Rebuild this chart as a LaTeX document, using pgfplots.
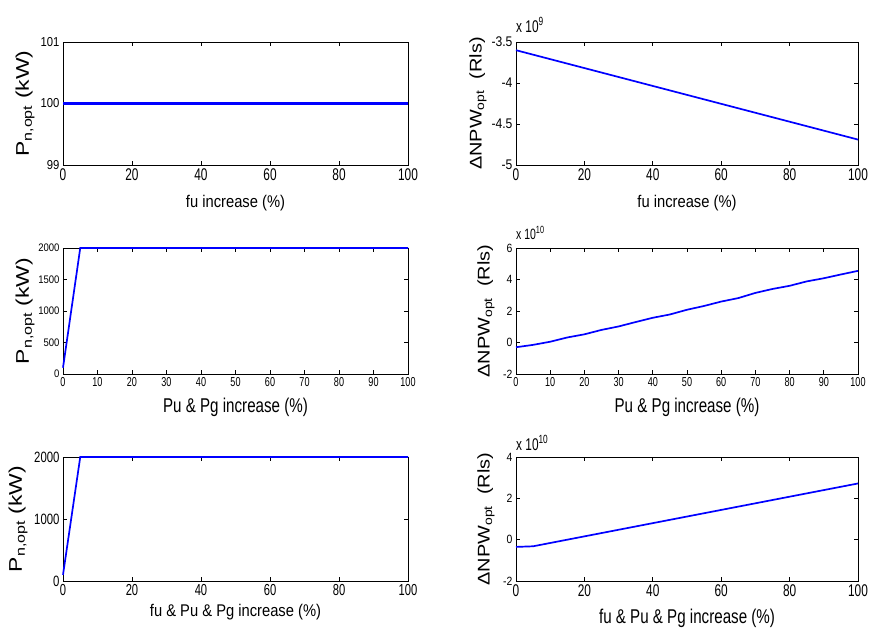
\documentclass[border=0pt]{standalone}
\usepackage{fontspec}
\setmainfont{Liberation Sans}
\newfontfamily\nA{Liberation Sans}[FakeStretch=0.70]
\newfontfamily\nB{Liberation Sans}[FakeStretch=0.76]
\newfontfamily\nC{Liberation Sans}[FakeStretch=0.87]
\usepackage{graphicx}
\usepackage{pgfplots}
\pgfplotsset{compat=1.18}
\newcommand{\fs}[1]{\fontsize{#1}{#1}\selectfont}
\pgfplotsset{
  mat/.style={
    scale only axis, anchor=south west,
    tick align=inside, tick pos=both, major tick length=4bp,
    axis line style={line width=0.9bp},
    every tick/.style={black, line width=0.8bp},
    scaled ticks=false, clip=false,
    /pgf/number format/assume math mode=true,
    /pgf/number format/1000 sep={},
    xmin=0, xmax=100, enlargelimits=false,
    every axis x label/.style={anchor=base, at={(axis description cs:0.5,0)}},
    every axis y label/.style={anchor=center, rotate=90, at={(axis description cs:0,0.5)}},
  },
}
\begin{document}
\begin{tikzpicture}
\useasboundingbox (0,0) rectangle (871bp,-631bp);

% ---------- Panel 1 ----------
\begin{axis}[mat, at={(63bp,-165bp)}, width=345bp, height=123bp,
  ymin=99, ymax=101, ytick={99,100,101}, xtick={0,20,...,100},
  xticklabel style={font=\nA\fs{17}},
  yticklabel style={font=\nC\fs{13}},
  xlabel={\nC\fs{17}fu increase (\%)},
  xlabel style={at={([yshift=-42bp]axis description cs:0.5,0)}},
  ylabel={\scalebox{1}[0.8]{\fs{23}P\textsubscript{n,opt} (kW)}},
  ylabel style={at={([xshift=-38bp]axis description cs:0,0.5)}},
]
\addplot[blue, line width=2.3bp] coordinates {(0,100) (50,100) (100,100)};
\end{axis}

% ---------- Panel 2 ----------
\begin{axis}[mat, at={(516bp,-165bp)}, width=342bp, height=123bp,
  ymin=-5, ymax=-3.5, ytick={-5,-4.5,-4,-3.5}, xtick={0,20,...,100},
  xticklabel style={font=\nA\fs{17}},
  yticklabel style={font=\nC\fs{14}},
  xlabel={\nC\fs{17}fu increase (\%)},
  xlabel style={at={([yshift=-42bp]axis description cs:0.5,0)}},
  ylabel={\scalebox{1}[0.85]{\fs{20}ΔNPW\textsubscript{opt}\ \ (Rls)}},
  ylabel style={at={([xshift=-38bp]axis description cs:0,0.5)}},
]
\addplot[blue, line width=1.7bp] coordinates {(0,-3.60) (100,-4.69)};
\node[anchor=base west, inner sep=0pt, font=\nA\fs{17}] at ([yshift=10bp]rel axis cs:0,1) {x 10\textsuperscript{9}};
\end{axis}

% ---------- Panel 3 ----------
\begin{axis}[mat, at={(63bp,-374bp)}, width=345bp, height=126bp,
  ymin=0, ymax=2000, ytick={0,500,...,2000}, xtick={0,10,...,100},
  xticklabel style={font=\nA\fs{13}},
  yticklabel style={font=\nC\fs{11}},
  xlabel={\nB\fs{20}Pu \& Pg increase (\%)},
  xlabel style={at={([yshift=-38bp]axis description cs:0.5,0)}},
  ylabel={\scalebox{1}[0.8]{\fs{23}P\textsubscript{n,opt} (kW)}},
  ylabel style={at={([xshift=-38bp]axis description cs:0,0.5)}},
]
\addplot[blue, line width=1.7bp] coordinates {(0,100) (5,2000) (100,2000)};
\end{axis}

% ---------- Panel 4 ----------
\begin{axis}[mat, at={(516bp,-374bp)}, width=342bp, height=126bp,
  ymin=-2, ymax=6, ytick={-2,0,...,6}, xtick={0,10,...,100},
  xticklabel style={font=\nA\fs{13}},
  yticklabel style={font=\nC\fs{12}},
  xlabel={\nB\fs{20}Pu \& Pg increase (\%)},
  xlabel style={at={([yshift=-38bp]axis description cs:0.5,0)}},
  ylabel={\scalebox{1}[0.85]{\fs{20}ΔNPW\textsubscript{opt}\ \ (Rls)}},
  ylabel style={at={([xshift=-30bp]axis description cs:0,0.5)}},
]
\addplot[blue, line width=1.7bp] coordinates {
 (0,-0.30) (5,-0.15) (10,0.05) (15,0.32) (20,0.52) (25,0.80) (30,1.02)
 (35,1.30) (40,1.57) (45,1.78) (50,2.08) (55,2.32) (60,2.60) (65,2.82)
 (70,3.15) (75,3.40) (80,3.60) (85,3.88) (90,4.08) (95,4.32) (100,4.55)};
\node[anchor=base west, inner sep=0pt, font=\nA\fs{15}] at ([yshift=9bp]rel axis cs:0,1) {x 10\textsuperscript{10}};
\end{axis}

% ---------- Panel 5 ----------
\begin{axis}[mat, at={(63bp,-581bp)}, width=345bp, height=124bp,
  ymin=0, ymax=2000, ytick={0,1000,2000}, xtick={0,20,...,100},
  xticklabel style={font=\nA\fs{16}},
  yticklabel style={font=\nB\fs{15}},
  xlabel={\nC\fs{17}fu \& Pu \& Pg increase (\%)},
  xlabel style={at={([yshift=-35bp]axis description cs:0.5,0)}},
  ylabel={\scalebox{1}[0.8]{\fs{23}P\textsubscript{n,opt} (kW)}},
  ylabel style={at={([xshift=-45bp]axis description cs:0,0.5)}},
]
\addplot[blue, line width=1.7bp] coordinates {(0,100) (5,2000) (100,2000)};
\end{axis}

% ---------- Panel 6 ----------
\begin{axis}[mat, at={(516bp,-581bp)}, width=342bp, height=124bp,
  ymin=-2, ymax=4, ytick={-2,0,2,4}, xtick={0,20,...,100},
  xticklabel style={font=\nA\fs{17}},
  yticklabel style={font=\nC\fs{12}},
  xlabel={\nB\fs{20}fu \& Pu \& Pg increase (\%)},
  xlabel style={at={([yshift=-42bp]axis description cs:0.5,0)}},
  ylabel={\scalebox{1}[0.85]{\fs{20}ΔNPW\textsubscript{opt}\ \ (Rls)}},
  ylabel style={at={([xshift=-30bp]axis description cs:0,0.5)}},
]
\addplot[blue, line width=1.7bp] coordinates {(0,-0.35) (5,-0.32) (100,2.72)};
\node[anchor=base west, inner sep=0pt, font=\nA\fs{17}] at ([yshift=7bp]rel axis cs:0,1) {x 10\textsuperscript{10}};
\end{axis}
\end{tikzpicture}
\end{document}
